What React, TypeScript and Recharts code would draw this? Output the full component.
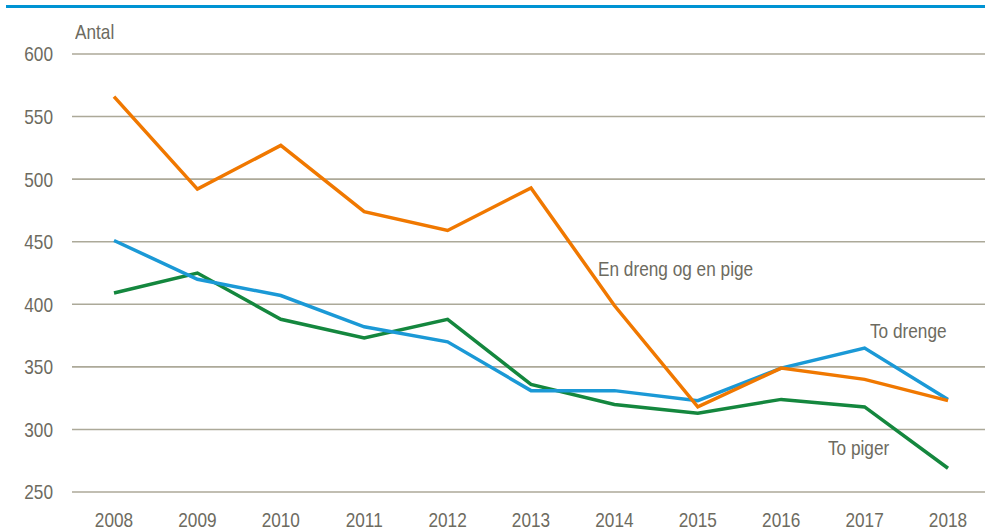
import { LineChart, Line, XAxis, YAxis, CartesianGrid } from "recharts";

// Antal fødsler efter børnenes køn (tvillinger)
const years = ["2008", "2009", "2010", "2011", "2012", "2013", "2014", "2015", "2016", "2017", "2018"];
const drengOgPige = [566, 492, 527, 474, 459, 493, 399, 318, 349, 340, 323];
const toDrenge = [451, 420, 407, 382, 370, 331, 331, 323, 349, 365, 324];
const toPiger = [409, 425, 388, 373, 388, 336, 320, 313, 324, 318, 269];
const yTicks = [250, 300, 350, 400, 450, 500, 550, 600];

const COLORS = {
  orange: "#f07800",
  blue: "#1b99d6",
  green: "#14873e",
  grid: "#aca999",
  text: "#6d6b5f",
  topLine: "#0093d3",
};

const FONT = "'Liberation Sans', Arial, sans-serif";
const NARROW = 0.82; // reference font is a condensed Arial

const data = years.map((year, i) => ({
  year,
  drengOgPige: drengOgPige[i],
  toDrenge: toDrenge[i],
  toPiger: toPiger[i],
}));

function XTick({ x, y, payload }: any) {
  return (
    <g transform={`translate(${x},${y})`}>
      <text transform={`scale(${NARROW},1)`} textAnchor="middle" dy="0.71em" fill={COLORS.text} fontSize={21} fontFamily={FONT}>
        {payload.value}
      </text>
    </g>
  );
}

function YTick({ x, y, payload }: any) {
  return (
    <g transform={`translate(${x},${y})`}>
      <text transform={`scale(${NARROW},1)`} textAnchor="end" dy="0.355em" fill={COLORS.text} fontSize={21} fontFamily={FONT}>
        {payload.value}
      </text>
    </g>
  );
}

const labelStyle: React.CSSProperties = {
  position: "absolute",
  fontFamily: FONT,
  fontSize: 21,
  color: COLORS.text,
  whiteSpace: "nowrap",
  lineHeight: 1,
  transform: `scaleX(${NARROW})`,
  transformOrigin: "0 0",
};

export default function App() {
  return (
    <div
      style={{
        position: "absolute",
        left: 0,
        top: 0,
        width: 985,
        height: 531,
        overflow: "hidden",
        background: "#fff",
      }}
    >
      <div style={{ position: "absolute", left: 6, top: 5, width: 979, height: 3, background: COLORS.topLine }} />
      <LineChart
        width={990}
        height={531}
        data={data}
        margin={{ top: 54, right: 1, bottom: 0, left: 0 }}
      >
        <CartesianGrid vertical={false} stroke={COLORS.grid} strokeWidth={1.6} />
        <XAxis
          dataKey="year"
          axisLine={false}
          tickLine={false}
          tickSize={0}
          tickMargin={20}
          height={39}
          interval={0}
          padding={{ left: 42, right: 41 }}
          tick={<XTick />}
        />
        <YAxis
          domain={[250, 600]}
          ticks={yTicks}
          axisLine={false}
          tickLine={false}
          tickSize={0}
          tickMargin={19}
          width={72}
          tick={<YTick />}
        />
        <Line type="linear" dataKey="toPiger" stroke={COLORS.green} strokeWidth={3.5} dot={false} isAnimationActive={false} />
        <Line type="linear" dataKey="toDrenge" stroke={COLORS.blue} strokeWidth={3.5} dot={false} isAnimationActive={false} />
        <Line type="linear" dataKey="drengOgPige" stroke={COLORS.orange} strokeWidth={3.5} dot={false} isAnimationActive={false} />
      </LineChart>
      <div style={{ ...labelStyle, left: 75, top: 21 }}>Antal</div>
      <div style={{ ...labelStyle, left: 598, top: 258 }}>En dreng og en pige</div>
      <div style={{ ...labelStyle, left: 870, top: 320 }}>To drenge</div>
      <div style={{ ...labelStyle, left: 828, top: 437 }}>To piger</div>
    </div>
  );
}
